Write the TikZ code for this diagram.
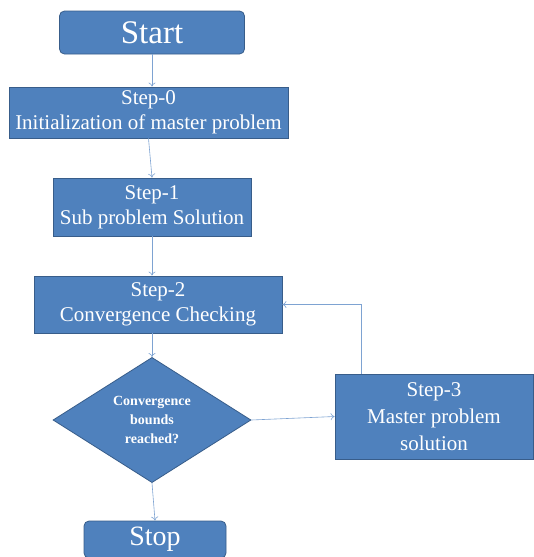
\documentclass[tikz,border=0pt]{standalone}
\usepackage{fontspec}
\setmainfont{Liberation Serif}
\usetikzlibrary{shapes.geometric,arrows.meta}
\definecolor{boxfill}{HTML}{4F81BD}
\definecolor{boxline}{HTML}{385D8A}
\definecolor{arrowcol}{HTML}{7EA3D2}
\begin{document}
\begin{tikzpicture}[x=1pt,y=-1pt,
  box/.style={draw=boxline,line width=0.8pt,fill=boxfill,text=white,align=center,inner sep=0pt,font=\fontsize{21}{25}\selectfont},
  term/.style={box,rounded corners=5pt,font=\fontsize{33}{36}\selectfont},
  decision/.style={box,diamond,font=\fontsize{14}{19}\selectfont\bfseries},
  conn/.style={draw=arrowcol,line width=0.6pt,-{To[length=4pt,width=7pt]}}]
\useasboundingbox (0,0) rectangle (534,557);
\node[term,minimum width=185pt,minimum height=43pt] (start) at (152,32.5) {Start};
\node[box,minimum width=279pt,minimum height=51pt] (s0) at (148.5,112.5) {Step-0\\Initialization of master problem};
\node[box,minimum width=198pt,minimum height=58pt] (s1) at (152,207) {Step-1\\Sub problem Solution};
\node[box,minimum width=248pt,minimum height=57pt] (s2) at (158,304.5) {Step-2\\Convergence Checking};
\node[decision,minimum width=198pt,minimum height=106pt] (d) at (152,420) {Convergence\\bounds\\reached?};
\node[box,minimum width=198pt,minimum height=85pt,font=\fontsize{21}{27}\selectfont] (s3) at (434,416.5) {Step-3\\Master problem\\solution};
\node[term,minimum width=142pt,minimum height=37pt,font=\fontsize{28}{32}\selectfont] (stop) at (155,539.5) {Stop};
\coordinate (fb) at (361,0);
\draw[conn] (start.south) -- (start.south |- s0.north);
\draw[conn] (s0.south) -- (s1.north);
\draw[conn] (s1.south) -- (s1.south |- s2.north);
\draw[conn] (s2.south -| d.north) -- (d.north);
\draw[conn] (d.east) -- (s3.west);
\draw[conn] (d.south) -- (stop.north);
\draw[conn] (fb |- s3.north) |- (s2.east);
\end{tikzpicture}
\end{document}
